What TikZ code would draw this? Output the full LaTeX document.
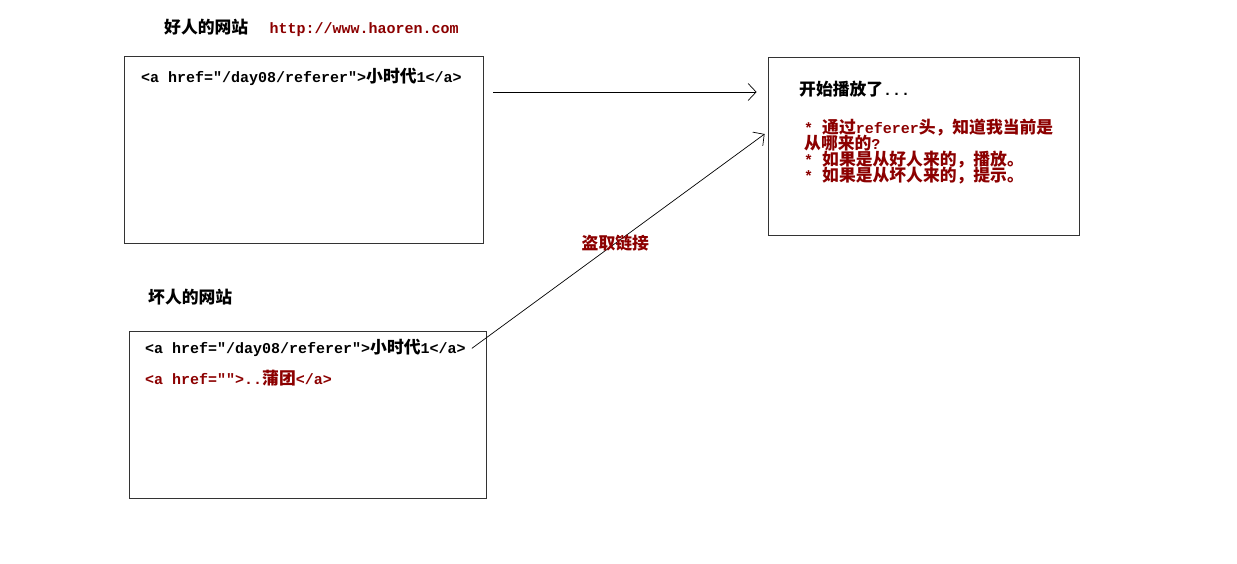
\documentclass[tikz,border=0pt]{standalone}
\usepackage{fontspec}
\setmonofont{Liberation Mono}
\newfontfamily\cjk{Noto Sans CJK SC}[Scale=1.12]
\usetikzlibrary{positioning,arrows.meta}
\definecolor{linkred}{RGB}{140,0,0}
\newcommand{\zh}[1]{{\cjk #1}}
\protected\def\tightlines{\lineskiplimit=-20pt\relax}

\begin{document}
\begin{tikzpicture}[x=1pt,y=-1pt,
    site/.style={draw=black!80,line width=0.8pt,inner sep=0pt},
    txt/.style={inner sep=0pt,anchor=base west,font=\fontsize{15}{16}\selectfont\tightlines\ttfamily\bfseries},
    link/.style={-{Straight Barb[length=8pt,width=17pt]},line width=0.7pt}]
  \fill[white](0,0)rectangle(1237,563);
  % the three pages
  \node[site,minimum width=359pt,minimum height=187pt](good) at (303.5,149.5){};
  \node[site,minimum width=311pt,minimum height=178pt](target) at (923.5,146){};
  \node[site,minimum width=357pt,minimum height=167pt](bad) at (307.5,414.5){};
  % good site
  \node[txt](goodtitle) at (164,33){\zh{好人的网站}};
  \node[txt,text=linkred,base right=21pt of goodtitle](goodurl){http://www.haoren.com};
  \node[txt](goodlink) at (141,82){<a href="/day08/referer">\zh{小时代}1</a>};
  % target page
  \node[txt](play) at (799,95){\zh{开始播放了}...};
  \node[txt,anchor=north west,align=left,text=linkred](check) at (804,119){%
    * \zh{通过}referer\zh{头，知道我当前是}\\
    \zh{从哪来的}?\\
    * \zh{如果是从好人来的，播放。}\\
    * \zh{如果是从坏人来的，提示。}};
  % bad site
  \node[txt](badtitle) at (148,303){\zh{坏人的网站}};
  \node[txt](badlink) at (145,353){<a href="/day08/referer">\zh{小时代}1</a>};
  \node[txt,text=linkred](fakelink) at (145,384){<a href="">..\zh{蒲团}</a>};
  % links
  \coordinate(gs) at ([xshift=10pt,yshift=57.5pt]good.east);
  \coordinate(ge) at ([xshift=-11pt,yshift=54pt]target.west);
  \coordinate(bs) at ([xshift=6pt,yshift=-1pt]badlink.east);
  \coordinate(be) at ([xshift=-3pt,yshift=12pt]target.west);
  \draw[link](gs)--(ge);
  \draw[link](bs)--node[pos=0.49,txt,anchor=center,text=linkred]{\zh{盗取链接}}(be);
\end{tikzpicture}
\end{document}
